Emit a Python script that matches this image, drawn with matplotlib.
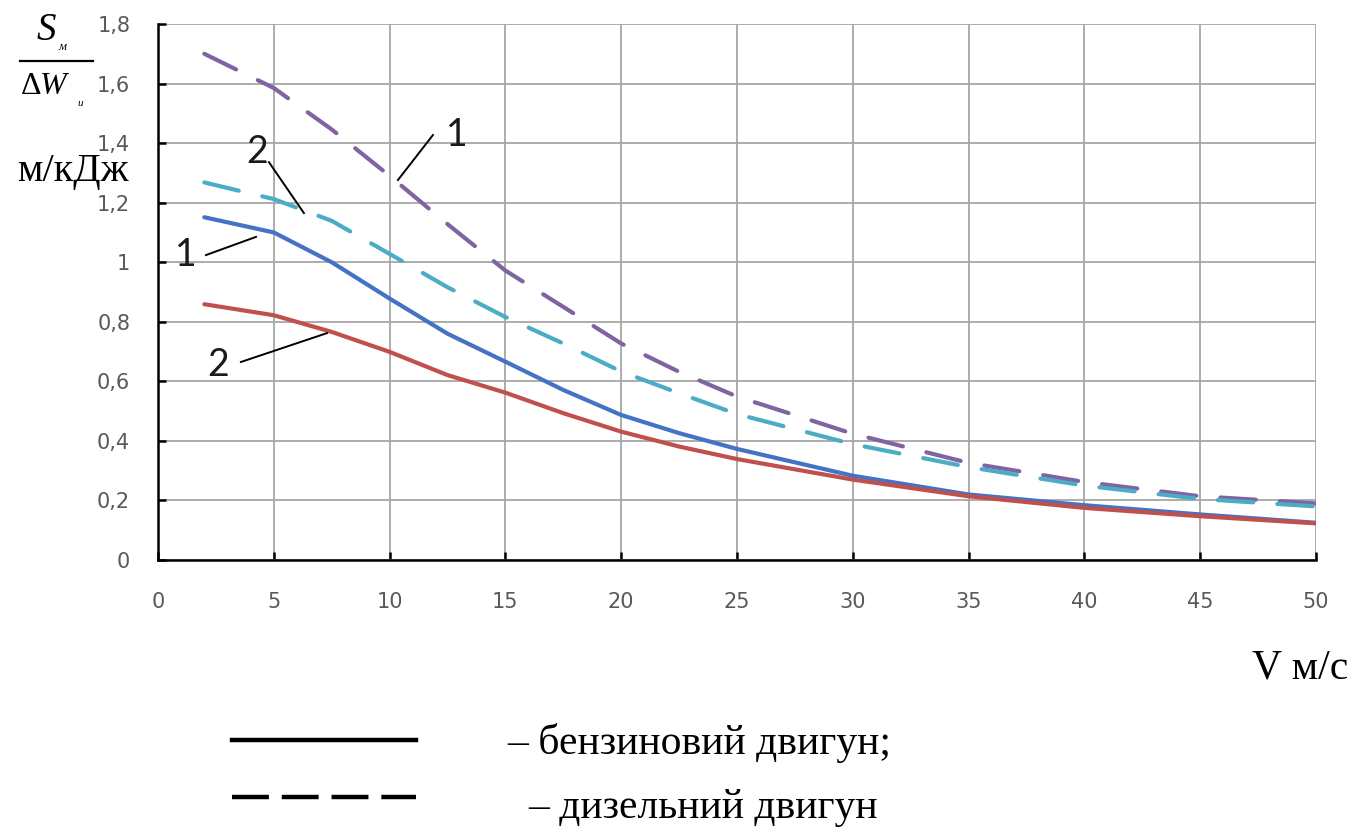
import matplotlib
matplotlib.use("Agg")
import matplotlib.pyplot as plt
from matplotlib.lines import Line2D

# ---- data ----
v = [2, 5, 7.5, 10, 12.5, 15, 17.5, 20, 22.5, 25, 30, 35, 40, 45, 50]
diesel_1 = [1.70, 1.585, 1.446, 1.29, 1.128, 0.972, 0.85, 0.727, 0.632, 0.549, 0.424, 0.326, 0.262, 0.214, 0.19]
diesel_2 = [1.268, 1.212, 1.139, 1.028, 0.916, 0.816, 0.727, 0.633, 0.56, 0.49, 0.389, 0.312, 0.25, 0.205, 0.18]
petrol_1 = [1.151, 1.10, 1.0, 0.878, 0.76, 0.666, 0.571, 0.487, 0.426, 0.373, 0.283, 0.22, 0.184, 0.153, 0.125]
petrol_2 = [0.859, 0.822, 0.766, 0.699, 0.621, 0.562, 0.493, 0.431, 0.381, 0.339, 0.270, 0.214, 0.175, 0.147, 0.123]

x_ticks = [0, 5, 10, 15, 20, 25, 30, 35, 40, 45, 50]
y_ticks = [0, 0.2, 0.4, 0.6, 0.8, 1.0, 1.2, 1.4, 1.6, 1.8]
y_tick_labels = ["0", "0,2", "0,4", "0,6", "0,8", "1", "1,2", "1,4", "1,6", "1,8"]

# annotation: (label, label_x, label_y, line_from, line_to)
annotations = [
    ("1", 12.9, 1.427, (11.87, 1.427), (10.36, 1.276)),
    ("2", 4.27, 1.37, (4.79, 1.336), (6.30, 1.165)),
    ("1", 1.21, 1.024, (2.07, 1.024), (4.23, 1.085)),
    ("2", 2.59, 0.655, (3.58, 0.665), (7.30, 0.762)),
]

W, H = 1356, 831
fig = plt.figure(figsize=(W / 100, H / 100), dpi=100)
ax = fig.add_axes([158 / W, 1 - 560 / H, (1316 - 158) / W, (560 - 24) / H])

lw = 3.0
dash = (8.5, 5.8)
ax.plot(v, diesel_1, color="#8064A2", lw=lw, dashes=dash, dash_capstyle="round", zorder=3)
ax.plot(v, diesel_2, color="#4BACC6", lw=lw, dashes=dash, dash_capstyle="round", zorder=3)
ax.plot(v, petrol_1, color="#4472C4", lw=lw, solid_capstyle="round", solid_joinstyle="round", zorder=3)
ax.plot(v, petrol_2, color="#C0504D", lw=lw, solid_capstyle="round", solid_joinstyle="round", zorder=3)

ax.set_xlim(0, 50)
ax.set_ylim(0, 1.8)
ax.set_xticks(x_ticks)
ax.set_xticklabels([str(t) for t in x_ticks])
ax.set_yticks(y_ticks)
ax.set_yticklabels(y_tick_labels)
ax.grid(True, color="#A6A6A6", lw=1.3, zorder=0)
for s in ("top", "right"):
    ax.spines[s].set_visible(False)
for s in ("left", "bottom"):
    ax.spines[s].set_color("black")
    ax.spines[s].set_linewidth(1.8)
ax.tick_params(direction="in", length=6, width=1.8, color="black",
               labelsize=15, labelcolor="#595959")
ax.tick_params(axis="y", pad=20)
ax.tick_params(axis="x", pad=23)
for lab in ax.get_xticklabels() + ax.get_yticklabels():
    lab.set_fontfamily("DejaVu Sans")

for lab, lx, ly, p0, p1 in annotations:
    ax.add_line(Line2D([p0[0], p1[0]], [p0[1], p1[1]], color="black", lw=1.4, zorder=4))
    ax.text(lx, ly, lab, fontsize=27, family="Lato",
            ha="center", va="center", color="#1a1a1a", zorder=5)

serif = "Liberation Serif"
# y label as fraction
fig.text(46 / W, 1 - 31 / H, "S", fontsize=28, family=serif, style="italic",
         ha="center", va="center")
fig.text(62 / W, 1 - 47 / H, "м", fontsize=9, family=serif, style="italic",
         ha="center", va="center")
fig.add_artist(Line2D([20 / W, 93 / W], [1 - 61 / H, 1 - 61 / H], color="black",
                      lw=1.6, transform=fig.transFigure))
fig.text(31 / W, 1 - 87 / H, "Δ", fontsize=23, family=serif,
         ha="center", va="center")
fig.text(53 / W, 1 - 87 / H, "W", fontsize=23, family=serif, style="italic",
         ha="center", va="center")
fig.text(80 / W, 1 - 104 / H, "и", fontsize=8, family=serif, style="italic",
         ha="center", va="center")
fig.text(73 / W, 1 - 172 / H, "м/кДж", fontsize=29, family=serif,
         ha="center", va="center")

# x label
fig.text(1300 / W, 1 - 668 / H, "V м/с", fontsize=30, family=serif,
         ha="center", va="center")

# legend
fig.add_artist(Line2D([232 / W, 416 / W], [1 - 740 / H, 1 - 740 / H], color="black",
                      lw=3.2, transform=fig.transFigure))
fig.add_artist(Line2D([232 / W, 416 / W], [1 - 797 / H, 1 - 797 / H], color="black",
                      lw=3.2, dashes=(8.3, 2.9), transform=fig.transFigure))
fig.text(507 / W, 1 - 743 / H, "– бензиновий двигун;", fontsize=30, family=serif,
         ha="left", va="center")
fig.text(528 / W, 1 - 808 / H, "– дизельний двигун", fontsize=30, family=serif,
         ha="left", va="center")

fig.savefig("out.png", dpi=100)
